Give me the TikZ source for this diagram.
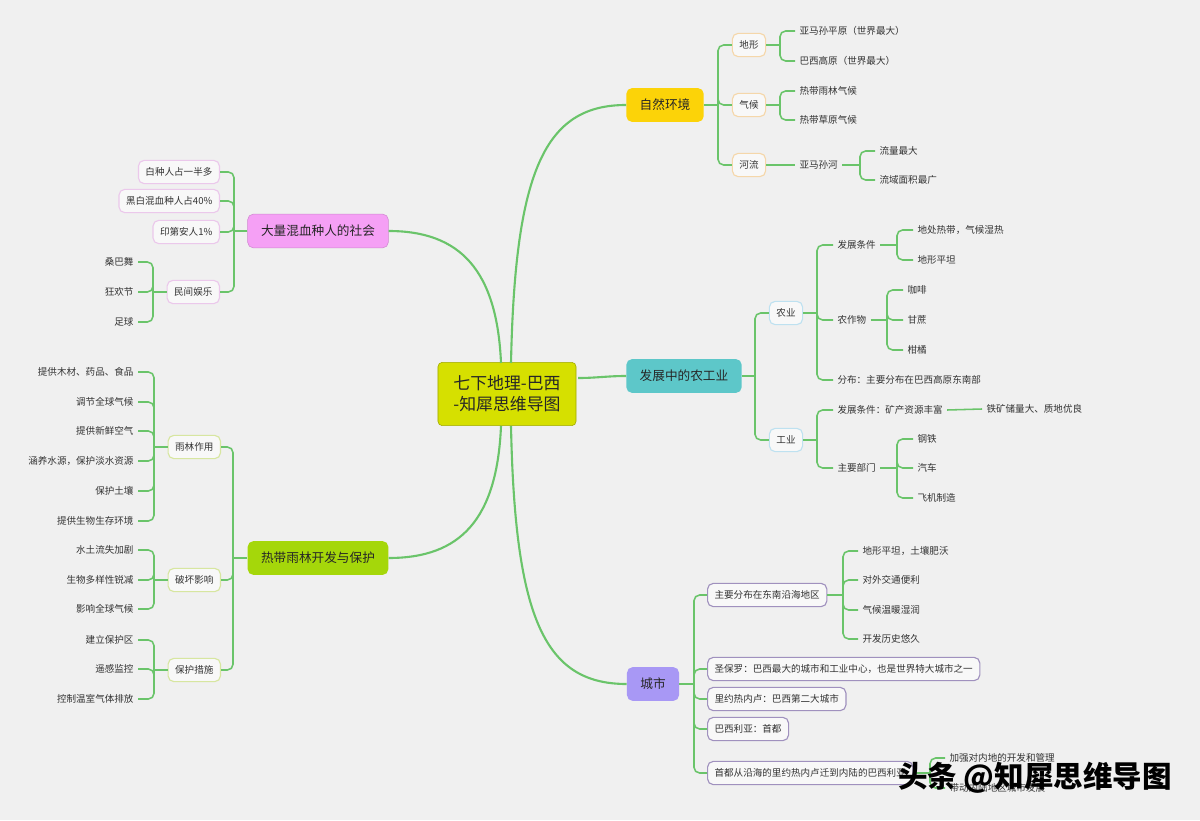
\documentclass[tikz,border=0pt]{standalone}
\usepackage{fontspec}
\setmainfont{Noto Sans CJK SC}
\usepackage{tikz}
\definecolor{bg}{RGB}{240,240,240}
\definecolor{lnk}{RGB}{106,196,106}
\definecolor{ink}{RGB}{51,51,51}
\definecolor{rootc}{RGB}{214,224,0}
\definecolor{envc}{RGB}{252,211,8}
\definecolor{agrc}{RGB}{93,199,201}
\definecolor{cityc}{RGB}{168,152,245}
\definecolor{socc}{RGB}{245,160,245}
\definecolor{rainc}{RGB}{165,215,10}
\definecolor{subf}{RGB}{248,248,248}
\tikzstyle{link}=[draw=lnk, line width=1.1pt, rounded corners=4pt]
\tikzstyle{trunk}=[draw=lnk, line width=1.5pt]
\tikzstyle{root}=[rounded corners=3pt, draw=rootc!75!black, fill=rootc, align=center, inner xsep=11pt, minimum height=45pt, font=\fontsize{12}{15}\selectfont, text=black!85]
\tikzstyle{topic}=[rounded corners=4pt, minimum height=24pt, inner xsep=9.5pt, font=\fontsize{9}{11}\selectfont, text=black!85]
\tikzstyle{sub}=[rounded corners=4pt, draw, line width=0.8pt, fill=subf, minimum height=16.5pt, inner xsep=5pt, font=\fontsize{6.8}{8}\selectfont, text=ink]
\tikzstyle{leaf}=[inner sep=3pt, font=\fontsize{6.8}{8}\selectfont, text=ink]
\tikzstyle{lf}=[leaf, anchor=west]
\tikzstyle{rt}=[leaf, anchor=east]

\begin{document}
\begin{tikzpicture}[x=0.025cm, y=-0.025cm]
	\useasboundingbox (0,0) rectangle (1200,820);
	\fill[bg] (0,0) rectangle (1200,820);
	% centre and main topics
	\draw (507,394) node[root] (cen) {七下地理-巴西\\-知犀思维导图};
	\draw (665,105) node[topic, fill=envc] (env) {自然环境};
	\draw (684,376) node[topic, fill=agrc] (agr) {发展中的农工业};
	\draw (653,684) node[topic, fill=cityc] (city) {城市};
	\draw (318,231) node[topic, fill=socc, draw=socc!85!black] (soc) {大量混血种人的社会};
	\draw (318,558) node[topic, fill=rainc] (rain) {热带雨林开发与保护};
	\coordinate (cTR) at (511,363);
	\coordinate (cTL) at (501,363);
	\coordinate (cBR) at (511,426);
	\coordinate (cBL) at (501,426);
	\coordinate (cR) at (578,378);
	\draw[trunk] (cTR) .. controls (515,170) and (545,105) .. (env.west);
	\draw[trunk] (cR) to[out=0, in=180] (agr.west);
	\draw[trunk] (cBR) .. controls (515,620) and (545,684) .. (city.west);
	\draw[trunk] (cTL) .. controls (497,270) and (460,231) .. (soc.east);
	\draw[trunk] (cBL) .. controls (497,520) and (460,558) .. (rain.east);

	% 自然环境
	\draw (749,45) node[sub, draw={rgb,255:red,245;green,215;blue,170}] (tf) {地形};
	\draw (749,105) node[sub, draw={rgb,255:red,245;green,215;blue,170}] (qh) {气候};
	\draw (749,165) node[sub, draw={rgb,255:red,245;green,215;blue,170}] (hl) {河流};
	\draw[link] (env.east) -- (718,105);
	\foreach \n in {tf,qh,hl} \draw[link] (718,105) |- (\n.west);
	\draw (795,31) node[lf] (tf1) {亚马孙平原（世界最大）};
	\draw (795,61) node[lf] (tf2) {巴西高原（世界最大）};
	\draw[link] (tf.east) -- (780,45);
	\foreach \n in {tf1,tf2} \draw[link] (780,45) |- (\n.west);
	\draw (795,91) node[lf] (qh1) {热带雨林气候};
	\draw (795,120) node[lf] (qh2) {热带草原气候};
	\draw[link] (qh.east) -- (780,105);
	\foreach \n in {qh1,qh2} \draw[link] (780,105) |- (\n.west);
	\draw (795,165) node[lf] (amz) {亚马孙河};
	\draw[link] (hl.east) -- (amz.west);
	\draw (875,151) node[lf] (amz1) {流量最大};
	\draw (875,180) node[lf] (amz2) {流域面积最广};
	\draw[link] (amz.east) -- (860,165);
	\foreach \n in {amz1,amz2} \draw[link] (860,165) |- (\n.west);

	% 发展中的农工业
	\draw (786,313) node[sub, draw={rgb,255:red,190;green,225;blue,240}] (ny) {农业};
	\draw (786,440) node[sub, draw={rgb,255:red,190;green,225;blue,240}] (gy) {工业};
	\draw[link] (agr.east) -- (755,376);
	\foreach \n in {ny,gy} \draw[link] (755,376) |- (\n.west);
	\draw (833,245) node[lf] (ntj) {发展条件};
	\draw (833,320) node[lf] (nzw) {农作物};
	\draw (833,380) node[lf] (nfb) {分布：主要分布在巴西高原东南部};
	\draw[link] (ny.east) -- (817,313);
	\foreach \n in {ntj,nzw,nfb} \draw[link] (817,313) |- (\n.west);
	\draw (913,230) node[lf] (ntj1) {地处热带，气候湿热};
	\draw (913,260) node[lf] (ntj2) {地形平坦};
	\draw[link] (ntj.east) -- (897,245);
	\foreach \n in {ntj1,ntj2} \draw[link] (897,245) |- (\n.west);
	\draw (903,290) node[lf] (nzw1) {咖啡};
	\draw (903,320) node[lf] (nzw2) {甘蔗};
	\draw (903,350) node[lf] (nzw3) {柑橘};
	\draw[link] (nzw.east) -- (887,320);
	\foreach \n in {nzw1,nzw2,nzw3} \draw[link] (887,320) |- (\n.west);
	\draw (833,410) node[lf] (gtj) {发展条件：矿产资源丰富};
	\draw (833,468) node[lf] (gbm) {主要部门};
	\draw[link] (gy.east) -- (817,440);
	\foreach \n in {gtj,gbm} \draw[link] (817,440) |- (\n.west);
	\draw (982,409) node[lf] (gtk) {铁矿储量大、质地优良};
	\draw[link] (gtj.east) -- (gtk.west);
	\draw (913,439) node[lf] (gbm1) {钢铁};
	\draw (913,468) node[lf] (gbm2) {汽车};
	\draw (913,498) node[lf] (gbm3) {飞机制造};
	\draw[link] (gbm.east) -- (897,468);
	\foreach \n in {gbm1,gbm2,gbm3} \draw[link] (897,468) |- (\n.west);

	% 城市
	\draw (707,595) node[sub, anchor=west, draw={rgb,255:red,160;green,145;blue,190}] (c1) {主要分布在东南沿海地区};
	\draw (707,669) node[sub, anchor=west, draw={rgb,255:red,160;green,145;blue,190}] (c2) {圣保罗：巴西最大的城市和工业中心，也是世界特大城市之一};
	\draw (707,699) node[sub, anchor=west, draw={rgb,255:red,160;green,145;blue,190}] (c3) {里约热内卢：巴西第二大城市};
	\draw (707,729) node[sub, anchor=west, draw={rgb,255:red,160;green,145;blue,190}] (c4) {巴西利亚：首都};
	\draw (707,773) node[sub, anchor=west, draw={rgb,255:red,160;green,145;blue,190}] (c5) {首都从沿海的里约热内卢迁到内陆的巴西利亚};
	\draw[link] (city.east) -- (694,684);
	\foreach \n in {c1,c2,c3,c4,c5} \draw[link] (694,684) |- (\n.west);
	\draw (858,551) node[lf] (c11) {地形平坦，土壤肥沃};
	\draw (858,580) node[lf] (c12) {对外交通便利};
	\draw (858,610) node[lf] (c13) {气候温暖湿润};
	\draw (858,639) node[lf] (c14) {开发历史悠久};
	\draw[link] (c1.east) -- (843,595);
	\foreach \n in {c11,c12,c13,c14} \draw[link] (843,595) |- (\n.west);
	\draw (945,758) node[lf] (c51) {加强对内地的开发和管理};
	\draw (945,788) node[lf] (c52) {带动内陆地区城市发展};
	\draw[link] (c5.east) -- (930,773);
	\foreach \n in {c51,c52} \draw[link] (930,773) |- (\n.west);

	% 大量混血种人的社会
	\draw (220,172) node[sub, anchor=east, draw={rgb,255:red,235;green,200;blue,235}] (s1) {白种人占一半多};
	\draw (220,201) node[sub, anchor=east, draw={rgb,255:red,235;green,200;blue,235}] (s2) {黑白混血种人占40\%};
	\draw (220,232) node[sub, anchor=east, draw={rgb,255:red,235;green,200;blue,235}] (s3) {印第安人1\%};
	\draw (220,292) node[sub, anchor=east, draw={rgb,255:red,235;green,200;blue,235}] (s4) {民间娱乐};
	\draw[link] (soc.west) -- (234,231);
	\foreach \n in {s1,s2,s3,s4} \draw[link] (234,231) |- (\n.east);
	\draw (138,262) node[rt] (s41) {桑巴舞};
	\draw (138,292) node[rt] (s42) {狂欢节};
	\draw (138,322) node[rt] (s43) {足球};
	\draw[link] (s4.west) -- (153,292);
	\foreach \n in {s41,s42,s43} \draw[link] (153,292) |- (\n.east);

	% 热带雨林开发与保护
	\draw (221,447) node[sub, anchor=east, draw={rgb,255:red,215;green,230;blue,160}] (r1) {雨林作用};
	\draw (221,580) node[sub, anchor=east, draw={rgb,255:red,215;green,230;blue,160}] (r2) {破坏影响};
	\draw (221,670) node[sub, anchor=east, draw={rgb,255:red,215;green,230;blue,160}] (r3) {保护措施};
	\draw[link] (rain.west) -- (233,558);
	\foreach \n in {r1,r2,r3} \draw[link] (233,558) |- (\n.east);
	\draw (138,372) node[rt] (r11) {提供木材、药品、食品};
	\draw (138,402) node[rt] (r12) {调节全球气候};
	\draw (138,431) node[rt] (r13) {提供新鲜空气};
	\draw (138,461) node[rt] (r14) {涵养水源，保护淡水资源};
	\draw (138,491) node[rt] (r15) {保护土壤};
	\draw (138,521) node[rt] (r16) {提供生物生存环境};
	\draw[link] (r1.west) -- (154,447);
	\foreach \n in {r11,r12,r13,r14,r15,r16} \draw[link] (154,447) |- (\n.east);
	\draw (138,550) node[rt] (r21) {水土流失加剧};
	\draw (138,580) node[rt] (r22) {生物多样性锐减};
	\draw (138,609) node[rt] (r23) {影响全球气候};
	\draw[link] (r2.west) -- (154,580);
	\foreach \n in {r21,r22,r23} \draw[link] (154,580) |- (\n.east);
	\draw (138,640) node[rt] (r31) {建立保护区};
	\draw (138,669) node[rt] (r32) {遥感监控};
	\draw (138,699) node[rt] (r33) {控制温室气体排放};
	\draw[link] (r3.west) -- (154,670);
	\foreach \n in {r31,r32,r33} \draw[link] (154,670) |- (\n.east);

	% watermark
	\draw (1035,778) node[font=\fontsize{21}{25}\selectfont\bfseries, text=black] (wm) {头条 @知犀思维导图};
\end{tikzpicture}
\end{document}
